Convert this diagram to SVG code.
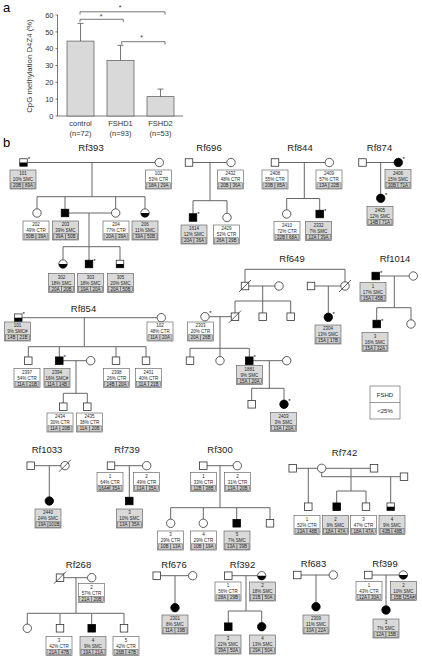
<svg xmlns="http://www.w3.org/2000/svg" width="422" height="661" viewBox="0 0 422 661">
<style>
text{font-family:"Liberation Sans",Arial,sans-serif}
.ln{stroke:#666;stroke-width:1;fill:none}
.s{fill:#fff;stroke:#333;stroke-width:0.8}
.a{fill:#000;stroke:#000;stroke-width:0.8}
.k{fill:#000}
.x{stroke:#333;stroke-width:0.8}
.bx{fill:#fff;stroke:#555;stroke-width:0.6}
.bg{fill:#d9d9d9;stroke:#555;stroke-width:0.6}
.c{fill:#cdcdcd;stroke:#555;stroke-width:0.5}
.t{font-size:4.5px;fill:#262626;text-anchor:middle}
.st{font-size:6px;fill:#000}
.ti{font-size:9.5px;fill:#1a1a1a;text-anchor:middle}
.ax{font-size:7.5px;fill:#333;text-anchor:end}
.xl{font-size:7.5px;fill:#333;text-anchor:middle}
.bar{fill:#d9d9d9;stroke:#666;stroke-width:0.8}
.ch{stroke:#555;stroke-width:0.8;fill:none}
</style>

<!-- Panel a -->
<g id="panel-a">
<text x="3" y="12" style="font-size:13px">a</text>
<text transform="translate(31.5,66) rotate(-90)" style="font-size:7.8px;fill:#333;text-anchor:middle">CpG methylation D4Z4 (%)</text>
<path class="ch" d="M57.5,15V116H183"/>
<path class="ch" d="M55.5,15H57.5M55.5,31.9H57.5M55.5,48.7H57.5M55.5,65.5H57.5M55.5,82.3H57.5M55.5,99.2H57.5M55.5,116H57.5"/>
<text class="ax" x="53.5" y="17.7">60</text>
<text class="ax" x="53.5" y="34.6">50</text>
<text class="ax" x="53.5" y="51.4">40</text>
<text class="ax" x="53.5" y="68.2">30</text>
<text class="ax" x="53.5" y="85">20</text>
<text class="ax" x="53.5" y="101.9">10</text>
<text class="ax" x="53.5" y="118.7">0</text>
<rect class="bar" x="67" y="41.1" width="27" height="74.9"/>
<rect class="bar" x="107" y="60.5" width="27" height="55.5"/>
<rect class="bar" x="147" y="96.6" width="27" height="19.4"/>
<path class="ch" d="M80.5,41.1V23.4M77.5,23.4H83.5M120.5,60.5V45.3M117.5,45.3H123.5M160.5,96.6V89.1M157.5,89.1H163.5"/>
<path class="ch" d="M80,14.5V11.8H165V14.5M80,22V19.3H123.3V22M121.7,44.5V41.7H165V44.5"/>
<text class="xl" x="120" y="10" style="font-size:7px">*</text>
<text class="xl" x="101" y="19" style="font-size:7px">*</text>
<text class="xl" x="141.7" y="40" style="font-size:7px">*</text>
<text class="xl" x="80.5" y="126">control</text>
<text class="xl" x="80.5" y="135.5">(n=72)</text>
<text class="xl" x="120.5" y="126">FSHD1</text>
<text class="xl" x="120.5" y="135.5">(n=93)</text>
<text class="xl" x="160.5" y="126">FSHD2</text>
<text class="xl" x="160.5" y="135.5">(n=53)</text>
</g>

<text x="3" y="146.5" style="font-size:13px">b</text>

<!-- Titles -->
<g id="titles">
<text class="ti" x="91" y="150.5">Rf393</text>
<text class="ti" x="209" y="150.5">Rf696</text>
<text class="ti" x="300" y="150.5">Rf844</text>
<text class="ti" x="379.5" y="150.5">Rf874</text>
<text class="ti" x="83.5" y="311.5">Rf854</text>
<text class="ti" x="292" y="261.5">Rf649</text>
<text class="ti" x="395" y="261.5">Rf1014</text>
<text class="ti" x="47" y="453">Rf1033</text>
<text class="ti" x="127" y="453">Rf739</text>
<text class="ti" x="220" y="453">Rf300</text>
<text class="ti" x="344.5" y="455.5">Rf742</text>
<text class="ti" x="78.5" y="567.5">Rf268</text>
<text class="ti" x="174" y="567.5">Rf676</text>
<text class="ti" x="242.5" y="567.5">Rf392</text>
<text class="ti" x="313.5" y="567">Rf683</text>
<text class="ti" x="385" y="567">Rf399</text>
</g>

<!-- Connectors -->
<g id="connectors" class="ln">
<path d="M27.25,162.5H155.1M92,162.5V196.7M37,196.7H145M37,196.7V208.8M65,196.7V209.25M115.7,196.7V208.8M145,196.7V208.8M68.75,213H111.5M89,213V246.7M63,246.7H120M63,246.7V259.8M89,246.7V260.25M120,246.7V260.25"/>
<path d="M192.75,162.5H226.8M210,162.5V200.7M193,200.7H227M193,200.7V213.75M227,200.7V213.3"/>
<path d="M278.75,162.5H325.1M304.3,162.5V198.5M286.7,198.5H319.7M286.7,198.5V209.8M319.7,198.5V210.25"/>
<path d="M366.25,162.5H394.1M380.7,162.5V194.1"/>
<path d="M22.05,317.7H157.1M84.3,317.7V346.7M28.3,346.7H146M28.3,346.7V356.95M59.3,346.7V356.95M116,346.7V356.95M146,346.7V356.95M63.05,360.7H86.5M76,360.7V393.3M63.3,393.3H87.3M63.3,393.3V402.95M87.3,393.3V402.95"/>
<path d="M245,269.3H345M245,269.3V282.25M345,269.3V281.8M248.75,286H274.8M262.7,286V301M235,301H290.7M235,301V312.95M262.7,301V312.95M290.7,301V312.95M314.75,286H340.8M328.3,286V313.1M209.2,316.7H231.25M220,316.7V348.3M190,348.3H249.3M190,348.3V356.95M220,348.3V356.5M249.3,348.3V356.95M253.05,360.7H282.5M269.3,360.7V388.3M251.7,388.3H284M251.7,388.3V400.55M284,388.3V400.1"/>
<path d="M379.45,276H409.1M394.3,276V307.7M376.7,307.7H411M376.7,307.7V320.25M411,307.7V319.8"/>
<path d="M34.45,465.7H60.8M49.3,465.7V496.8"/>
<path d="M114.75,465.7H142.5M129.3,465.7V497.25"/>
<path d="M207.05,465.7H233.1M220,465.7V507.7M170.7,507.7H270M170.7,507.7V519.1M203.3,507.7V519.1M236.7,507.7V519.55M270,507.7V519.55"/>
<path d="M296.45,468.3H317.5M325.9,468.3H370.25M321.7,472.5V476.7H400.25M308.3,468.3V502.95M351,468.3V491M336.7,491H366M336.7,491V502.95M366,491V502.95M390.7,476.7V502.95"/>
<path d="M63.75,577.7H87.5M76,577.7V613.3M27.3,613.3H124M27.3,613.3V624.1M60,613.3V624.55M91.7,613.3V624.55M124,613.3V624.55"/>
<path d="M160.45,575.7H188.5M175,575.7V603.5"/>
<path d="M232.05,575.7H257.5M246,575.7V611M228.3,611H261.7M228.3,611V622.95M261.7,611V622.5"/>
<path d="M301.05,575H329.1M316,575V602.5"/>
<path d="M372.05,575H399.1M386,575V605.8"/>
</g>

<!-- Rf393 -->
<g id="rf393-101"><rect class="s" x="19.75" y="158.75" width="7.5" height="7.5"/><rect class="k" x="19.75" y="162.5" width="7.5" height="3.75"/><text class="st" x="27.8" y="161">*</text>
<g transform="translate(10,170)"><rect class="bg" width="26" height="19"/><text class="t" x="13" y="5.4">101</text><text class="t" x="13" y="11">10% SMC</text><rect class="c" x="1" y="12.8" width="12" height="5.4"/><rect class="c" x="13" y="12.8" width="12" height="5.4"/><text class="t" x="7" y="17.2">20B</text><text class="t" x="19" y="17.2">89A</text></g></g>
<g id="rf393-102"><circle class="s" cx="159.3" cy="162.5" r="4.2"/>
<g transform="translate(145.5,170)"><rect class="bx" width="26" height="19"/><text class="t" x="13" y="5.4">102</text><text class="t" x="13" y="11">53% CTR</text><rect class="c" x="1" y="12.8" width="12" height="5.4"/><rect class="c" x="13" y="12.8" width="12" height="5.4"/><text class="t" x="7" y="17.2">18A</text><text class="t" x="19" y="17.2">29A</text></g></g>
<g id="rf393-202"><circle class="s" cx="37" cy="213" r="4.2"/>
<g transform="translate(23,221)"><rect class="bx" width="26" height="19"/><text class="t" x="13" y="5.4">202</text><text class="t" x="13" y="11">49% CTR</text><rect class="c" x="1" y="12.8" width="12" height="5.4"/><rect class="c" x="13" y="12.8" width="12" height="5.4"/><text class="t" x="7" y="17.2">50B</text><text class="t" x="19" y="17.2">39A</text></g></g>
<g id="rf393-203"><rect class="a" x="61.25" y="209.25" width="7.5" height="7.5"/>
<g transform="translate(52.5,221)"><rect class="bg" width="26" height="19"/><text class="t" x="13" y="5.4">203</text><text class="t" x="13" y="11">39% SMC</text><rect class="c" x="1" y="12.8" width="12" height="5.4"/><rect class="c" x="13" y="12.8" width="12" height="5.4"/><text class="t" x="7" y="17.2">39A</text><text class="t" x="19" y="17.2">50B</text></g></g>
<g id="rf393-204"><circle class="s" cx="115.7" cy="213" r="4.2"/>
<g transform="translate(103,221)"><rect class="bx" width="26" height="19"/><text class="t" x="13" y="5.4">204</text><text class="t" x="13" y="11">77% CTR</text><rect class="c" x="1" y="12.8" width="12" height="5.4"/><rect class="c" x="13" y="12.8" width="12" height="5.4"/><text class="t" x="7" y="17.2">20A</text><text class="t" x="19" y="17.2">39A</text></g></g>
<g id="rf393-206"><circle class="s" cx="145" cy="213" r="4.2"/><path class="k" d="M140.8,213A4.2,4.2 0 0 0 149.2,213Z"/>
<g transform="translate(132,221)"><rect class="bg" width="26" height="19"/><text class="t" x="13" y="5.4">206</text><text class="t" x="13" y="11">11% SMC</text><rect class="c" x="1" y="12.8" width="12" height="5.4"/><rect class="c" x="13" y="12.8" width="12" height="5.4"/><text class="t" x="7" y="17.2">39A</text><text class="t" x="19" y="17.2">50B</text></g></g>
<g id="rf393-302"><circle class="s" cx="63" cy="264" r="4.2"/><path class="k" d="M58.8,264A4.2,4.2 0 0 0 67.2,264Z"/>
<g transform="translate(48.5,273.5)"><rect class="bg" width="26" height="19"/><text class="t" x="13" y="5.4">302</text><text class="t" x="13" y="11">18% SMC</text><rect class="c" x="1" y="12.8" width="12" height="5.4"/><rect class="c" x="13" y="12.8" width="12" height="5.4"/><text class="t" x="7" y="17.2">20A</text><text class="t" x="19" y="17.2">20B</text></g></g>
<g id="rf393-303"><rect class="a" x="85.25" y="260.25" width="7.5" height="7.5"/><text class="st" x="93.3" y="262.5">*</text>
<g transform="translate(77.5,273.5)"><rect class="bg" width="26" height="19"/><text class="t" x="13" y="5.4">303</text><text class="t" x="13" y="11">18% SMC</text><rect class="c" x="1" y="12.8" width="12" height="5.4"/><rect class="c" x="13" y="12.8" width="12" height="5.4"/><text class="t" x="7" y="17.2">19A</text><text class="t" x="19" y="17.2">20A</text></g></g>
<g id="rf393-305"><rect class="s" x="116.25" y="260.25" width="7.5" height="7.5"/><rect class="k" x="116.25" y="264" width="7.5" height="3.75"/>
<g transform="translate(107.5,273.5)"><rect class="bg" width="26" height="19"/><text class="t" x="13" y="5.4">305</text><text class="t" x="13" y="11">20% SMC</text><rect class="c" x="1" y="12.8" width="12" height="5.4"/><rect class="c" x="13" y="12.8" width="12" height="5.4"/><text class="t" x="7" y="17.2">20A</text><text class="t" x="19" y="17.2">50B</text></g></g>

<!-- Rf696 -->
<g id="rf696-f"><rect class="s" x="185.25" y="158.75" width="7.5" height="7.5"/></g>
<g id="rf696-2432"><circle class="s" cx="231" cy="162.5" r="4.2"/>
<g transform="translate(217.5,170)"><rect class="bx" width="26" height="19"/><text class="t" x="13" y="5.4">2432</text><text class="t" x="13" y="11">48% CTR</text><rect class="c" x="1" y="12.8" width="12" height="5.4"/><rect class="c" x="13" y="12.8" width="12" height="5.4"/><text class="t" x="7" y="17.2">20B</text><text class="t" x="19" y="17.2">36A</text></g></g>
<g id="rf696-1614"><rect class="a" x="189.25" y="213.75" width="7.5" height="7.5"/><text class="st" x="197.3" y="216">*</text>
<g transform="translate(181,225)"><rect class="bg" width="26" height="19"/><text class="t" x="13" y="5.4">1614</text><text class="t" x="13" y="11">12% SMC</text><rect class="c" x="1" y="12.8" width="12" height="5.4"/><rect class="c" x="13" y="12.8" width="12" height="5.4"/><text class="t" x="7" y="17.2">20A</text><text class="t" x="19" y="17.2">36A</text></g></g>
<g id="rf696-2429"><circle class="s" cx="227" cy="217.5" r="4.2"/>
<g transform="translate(213.5,225)"><rect class="bx" width="26" height="19"/><text class="t" x="13" y="5.4">2429</text><text class="t" x="13" y="11">52% CTR</text><rect class="c" x="1" y="12.8" width="12" height="5.4"/><rect class="c" x="13" y="12.8" width="12" height="5.4"/><text class="t" x="7" y="17.2">26A</text><text class="t" x="19" y="17.2">29B</text></g></g>

<!-- Rf844 -->
<g id="rf844-2408"><rect class="s" x="271.25" y="158.75" width="7.5" height="7.5"/>
<g transform="translate(262,170)"><rect class="bx" width="26" height="19"/><text class="t" x="13" y="5.4">2408</text><text class="t" x="13" y="11">55% CTR</text><rect class="c" x="1" y="12.8" width="12" height="5.4"/><rect class="c" x="13" y="12.8" width="12" height="5.4"/><text class="t" x="7" y="17.2">20B</text><text class="t" x="19" y="17.2">85A</text></g></g>
<g id="rf844-2409"><circle class="s" cx="329.3" cy="162.5" r="4.2"/>
<g transform="translate(316,170)"><rect class="bx" width="26" height="19"/><text class="t" x="13" y="5.4">2409</text><text class="t" x="13" y="11">57% CTR</text><rect class="c" x="1" y="12.8" width="12" height="5.4"/><rect class="c" x="13" y="12.8" width="12" height="5.4"/><text class="t" x="7" y="17.2">13A</text><text class="t" x="19" y="17.2">22B</text></g></g>
<g id="rf844-2410"><circle class="s" cx="286.7" cy="214" r="4.2"/>
<g transform="translate(274,221.5)"><rect class="bx" width="26" height="19"/><text class="t" x="13" y="5.4">2410</text><text class="t" x="13" y="11">72% CTR</text><rect class="c" x="1" y="12.8" width="12" height="5.4"/><rect class="c" x="13" y="12.8" width="12" height="5.4"/><text class="t" x="7" y="17.2">22B</text><text class="t" x="19" y="17.2">68A</text></g></g>
<g id="rf844-2332"><rect class="a" x="315.95" y="210.25" width="7.5" height="7.5"/><text class="st" x="324" y="212.5">*</text>
<g transform="translate(305.5,221.5)"><rect class="bg" width="26" height="19"/><text class="t" x="13" y="5.4">2332</text><text class="t" x="13" y="11">7% SMC</text><rect class="c" x="1" y="12.8" width="12" height="5.4"/><rect class="c" x="13" y="12.8" width="12" height="5.4"/><text class="t" x="7" y="17.2">12A</text><text class="t" x="19" y="17.2">39A</text></g></g>

<!-- Rf874 -->
<g id="rf874-f"><rect class="s" x="358.75" y="158.75" width="7.5" height="7.5"/></g>
<g id="rf874-2406"><circle class="a" cx="398.3" cy="162.5" r="4.2"/><text class="st" x="402.6" y="161">*</text>
<g transform="translate(385,169.5)"><rect class="bg" width="26" height="19"/><text class="t" x="13" y="5.4">2406</text><text class="t" x="13" y="11">15% SMC</text><rect class="c" x="1" y="12.8" width="12" height="5.4"/><rect class="c" x="13" y="12.8" width="12" height="5.4"/><text class="t" x="7" y="17.2">30B</text><text class="t" x="19" y="17.2">71A</text></g></g>
<g id="rf874-2405"><circle class="a" cx="380.7" cy="198.3" r="4.2"/><text class="st" x="385" y="196.8">*</text>
<g transform="translate(367,206.5)"><rect class="bg" width="26" height="19"/><text class="t" x="13" y="5.4">2405</text><text class="t" x="13" y="11">12% SMC</text><rect class="c" x="1" y="12.8" width="12" height="5.4"/><rect class="c" x="13" y="12.8" width="12" height="5.4"/><text class="t" x="7" y="17.2">14B</text><text class="t" x="19" y="17.2">71A</text></g></g>

<!-- Rf854 -->
<g id="rf854-101"><rect class="s" x="14.55" y="313.95" width="7.5" height="7.5"/><rect class="k" x="14.55" y="317.7" width="7.5" height="3.75"/><text class="st" x="22.6" y="316.2">*</text>
<g transform="translate(4.5,322)"><rect class="bg" width="26" height="19"/><text class="t" x="13" y="5.4">101</text><text class="t" x="13" y="11">9% SMC#</text><rect class="c" x="1" y="12.8" width="12" height="5.4"/><rect class="c" x="13" y="12.8" width="12" height="5.4"/><text class="t" x="7" y="17.2">14B</text><text class="t" x="19" y="17.2">21B</text></g></g>
<g id="rf854-102"><circle class="s" cx="161.3" cy="317.7" r="4.2"/>
<g transform="translate(147,322)"><rect class="bx" width="26" height="19"/><text class="t" x="13" y="5.4">102</text><text class="t" x="13" y="11">48% CTR</text><rect class="c" x="1" y="12.8" width="12" height="5.4"/><rect class="c" x="13" y="12.8" width="12" height="5.4"/><text class="t" x="7" y="17.2">11A</text><text class="t" x="19" y="17.2">20A</text></g></g>
<g id="rf854-2397"><rect class="s" x="24.55" y="356.95" width="7.5" height="7.5"/>
<g transform="translate(14,368.5)"><rect class="bx" width="26" height="19"/><text class="t" x="13" y="5.4">2397</text><text class="t" x="13" y="11">54% CTR</text><rect class="c" x="1" y="12.8" width="12" height="5.4"/><rect class="c" x="13" y="12.8" width="12" height="5.4"/><text class="t" x="7" y="17.2">11A</text><text class="t" x="19" y="17.2">21B</text></g></g>
<g id="rf854-2394"><rect class="a" x="55.55" y="356.95" width="7.5" height="7.5"/><text class="st" x="63.6" y="359.2">*</text>
<g transform="translate(44,368.5)"><rect class="bg" width="26" height="19"/><text class="t" x="13" y="5.4">2394</text><text class="t" x="13" y="11">16% SMC#</text><rect class="c" x="1" y="12.8" width="12" height="5.4"/><rect class="c" x="13" y="12.8" width="12" height="5.4"/><text class="t" x="7" y="17.2">11A</text><text class="t" x="19" y="17.2">14B</text></g></g>
<g id="rf854-spouse"><circle class="s" cx="90.7" cy="360.7" r="4.2"/></g>
<g id="rf854-2398"><rect class="s" x="112.25" y="356.95" width="7.5" height="7.5"/>
<g transform="translate(103.5,368.5)"><rect class="bx" width="26" height="19"/><text class="t" x="13" y="5.4">2398</text><text class="t" x="13" y="11">26% CTR</text><rect class="c" x="1" y="12.8" width="12" height="5.4"/><rect class="c" x="13" y="12.8" width="12" height="5.4"/><text class="t" x="7" y="17.2">14B</text><text class="t" x="19" y="17.2">20A</text></g></g>
<g id="rf854-2401"><rect class="s" x="142.25" y="356.95" width="7.5" height="7.5"/>
<g transform="translate(135.5,368.5)"><rect class="bx" width="26" height="19"/><text class="t" x="13" y="5.4">2401</text><text class="t" x="13" y="11">40% CTR</text><rect class="c" x="1" y="12.8" width="12" height="5.4"/><rect class="c" x="13" y="12.8" width="12" height="5.4"/><text class="t" x="7" y="17.2">11A</text><text class="t" x="19" y="17.2">21B</text></g></g>
<g id="rf854-2434"><rect class="s" x="59.55" y="402.95" width="7.5" height="7.5"/>
<g transform="translate(47,413)"><rect class="bx" width="26" height="19"/><text class="t" x="13" y="5.4">2434</text><text class="t" x="13" y="11">30% CTR</text><rect class="c" x="1" y="12.8" width="12" height="5.4"/><rect class="c" x="13" y="12.8" width="12" height="5.4"/><text class="t" x="7" y="17.2">11A</text><text class="t" x="19" y="17.2">20B</text></g></g>
<g id="rf854-2435"><rect class="s" x="83.55" y="402.95" width="7.5" height="7.5"/>
<g transform="translate(76.5,413)"><rect class="bx" width="26" height="19"/><text class="t" x="13" y="5.4">2435</text><text class="t" x="13" y="11">38% CTR</text><rect class="c" x="1" y="12.8" width="12" height="5.4"/><rect class="c" x="13" y="12.8" width="12" height="5.4"/><text class="t" x="7" y="17.2">11A</text><text class="t" x="19" y="17.2">20B</text></g></g>

<!-- Rf649 -->
<g id="rf649-a"><rect class="s" x="241.25" y="282.25" width="7.5" height="7.5"/><line class="x" x1="239" y1="292" x2="251" y2="280"/></g>
<g id="rf649-aw"><circle class="s" cx="279" cy="286" r="4.2"/></g>
<g id="rf649-b"><rect class="s" x="231.25" y="312.95" width="7.5" height="7.5"/><line class="x" x1="229" y1="322.7" x2="241" y2="310.7"/></g>
<g id="rf649-c"><rect class="s" x="258.95" y="312.95" width="7.5" height="7.5"/></g>
<g id="rf649-d"><rect class="s" x="286.95" y="312.95" width="7.5" height="7.5"/></g>
<g id="rf649-e"><rect class="s" x="307.25" y="282.25" width="7.5" height="7.5"/></g>
<g id="rf649-f"><circle class="s" cx="345" cy="286" r="4.2"/><line class="x" x1="339" y1="292" x2="351" y2="280"/></g>
<g id="rf649-2304"><circle class="a" cx="328.3" cy="317.3" r="4.2"/><text class="st" x="332.6" y="315.8">*</text>
<g transform="translate(315,325)"><rect class="bg" width="26" height="19"/><text class="t" x="13" y="5.4">2304</text><text class="t" x="13" y="11">13% SMC</text><rect class="c" x="1" y="12.8" width="12" height="5.4"/><rect class="c" x="13" y="12.8" width="12" height="5.4"/><text class="t" x="7" y="17.2">15A</text><text class="t" x="19" y="17.2">17B</text></g></g>
<g id="rf649-2303"><circle class="s" cx="205" cy="316.7" r="4.2"/><text class="st" x="209.3" y="315.2">*</text>
<g transform="translate(187.5,322)"><rect class="bx" width="26" height="19"/><text class="t" x="13" y="5.4">2303</text><text class="t" x="13" y="11">20% CTR</text><rect class="c" x="1" y="12.8" width="12" height="5.4"/><rect class="c" x="13" y="12.8" width="12" height="5.4"/><text class="t" x="7" y="17.2">20A</text><text class="t" x="19" y="17.2">26B</text></g></g>
<g id="rf649-g"><rect class="s" x="186.25" y="356.95" width="7.5" height="7.5"/></g>
<g id="rf649-h"><circle class="s" cx="220" cy="360.7" r="4.2"/></g>
<g id="rf649-1881"><rect class="a" x="245.55" y="356.95" width="7.5" height="7.5"/><text class="st" x="253.6" y="359.2">*</text>
<g transform="translate(236.5,365.5)"><rect class="bg" width="26" height="19"/><text class="t" x="13" y="5.4">1881</text><text class="t" x="13" y="11">9% SMC</text><rect class="c" x="1" y="12.8" width="12" height="5.4"/><rect class="c" x="13" y="12.8" width="12" height="5.4"/><text class="t" x="7" y="17.2">15A</text><text class="t" x="19" y="17.2">20A</text></g></g>
<g id="rf649-1881w"><circle class="s" cx="286.7" cy="360.7" r="4.2"/></g>
<g id="rf649-i"><rect class="s" x="247.95" y="400.55" width="7.5" height="7.5"/></g>
<g id="rf649-2403"><circle class="a" cx="284" cy="404.3" r="4.2"/><text class="st" x="288.3" y="402.8">*</text>
<g transform="translate(270.5,412.5)"><rect class="bg" width="26" height="19"/><text class="t" x="13" y="5.4">2403</text><text class="t" x="13" y="11">3% SMC</text><rect class="c" x="1" y="12.8" width="12" height="5.4"/><rect class="c" x="13" y="12.8" width="12" height="5.4"/><text class="t" x="7" y="17.2">13A</text><text class="t" x="19" y="17.2">20A</text></g></g>

<!-- Rf1014 -->
<g id="rf1014-1"><rect class="a" x="371.95" y="272.25" width="7.5" height="7.5"/><text class="st" x="380" y="274.5">*</text>
<g transform="translate(360,282.5)"><rect class="bg" width="26" height="19"/><text class="t" x="13" y="5.4">1</text><text class="t" x="13" y="11">17% SMC</text><rect class="c" x="1" y="12.8" width="12" height="5.4"/><rect class="c" x="13" y="12.8" width="12" height="5.4"/><text class="t" x="7" y="17.2">15A</text><text class="t" x="19" y="17.2">45B</text></g></g>
<g id="rf1014-2"><circle class="s" cx="413.3" cy="276" r="4.2"/></g>
<g id="rf1014-3"><rect class="a" x="372.95" y="320.25" width="7.5" height="7.5"/><text class="st" x="381" y="322.5">*</text>
<g transform="translate(362,332.5)"><rect class="bg" width="26" height="19"/><text class="t" x="13" y="5.4">3</text><text class="t" x="13" y="11">16% SMC</text><rect class="c" x="1" y="12.8" width="12" height="5.4"/><rect class="c" x="13" y="12.8" width="12" height="5.4"/><text class="t" x="7" y="17.2">15A</text><text class="t" x="19" y="17.2">32A</text></g></g>
<g id="rf1014-4"><circle class="s" cx="411" cy="324" r="4.2"/></g>

<!-- Legend -->
<g id="legend"><rect class="bx" x="370" y="386" width="30" height="33"/><line class="x" x1="370" y1="402.5" x2="400" y2="402.5" style="stroke:#555;stroke-width:0.6"/>
<text x="385" y="396.5" style="font-size:6px;fill:#222;text-anchor:middle">FSHD</text>
<text x="385" y="413" style="font-size:6px;fill:#222;text-anchor:middle">&lt;25%</text></g>

<!-- Rf1033 -->
<g id="rf1033-f"><rect class="s" x="26.95" y="461.95" width="7.5" height="7.5"/></g>
<g id="rf1033-m"><circle class="s" cx="65" cy="465.7" r="4.2"/><line class="x" x1="59" y1="471.7" x2="71" y2="459.7"/></g>
<g id="rf1033-2440"><circle class="a" cx="49.3" cy="501" r="4.2"/>
<g transform="translate(35,509)"><rect class="bg" width="26" height="19"/><text class="t" x="13" y="5.4">2440</text><text class="t" x="13" y="11">24% SMC</text><rect class="c" x="1" y="12.8" width="12" height="5.4"/><rect class="c" x="13" y="12.8" width="12" height="5.4"/><text class="t" x="7" y="17.2">19A</text><text class="t" x="19" y="17.2">101B</text></g></g>

<!-- Rf739 -->
<g id="rf739-1"><rect class="s" x="107.25" y="461.95" width="7.5" height="7.5"/>
<g transform="translate(97,472.5)"><rect class="bx" width="26" height="19"/><text class="t" x="13" y="5.4">1</text><text class="t" x="13" y="11">64% CTR</text><rect class="c" x="1" y="12.8" width="12" height="5.4"/><rect class="c" x="13" y="12.8" width="12" height="5.4"/><text class="t" x="7" y="17.2">16A#</text><text class="t" x="19" y="17.2">35A</text></g></g>
<g id="rf739-2"><circle class="s" cx="146.7" cy="465.7" r="4.2"/>
<g transform="translate(133.5,472.5)"><rect class="bx" width="26" height="19"/><text class="t" x="13" y="5.4">2</text><text class="t" x="13" y="11">49% CTR</text><rect class="c" x="1" y="12.8" width="12" height="5.4"/><rect class="c" x="13" y="12.8" width="12" height="5.4"/><text class="t" x="7" y="17.2">13A</text><text class="t" x="19" y="17.2">35A</text></g></g>
<g id="rf739-3"><rect class="a" x="125.55" y="497.25" width="7.5" height="7.5"/>
<g transform="translate(116.5,509)"><rect class="bg" width="26" height="19"/><text class="t" x="13" y="5.4">3</text><text class="t" x="13" y="11">10% SMC</text><rect class="c" x="1" y="12.8" width="12" height="5.4"/><rect class="c" x="13" y="12.8" width="12" height="5.4"/><text class="t" x="7" y="17.2">13A</text><text class="t" x="19" y="17.2">35A</text></g></g>

<!-- Rf300 -->
<g id="rf300-1"><rect class="s" x="199.55" y="461.95" width="7.5" height="7.5"/>
<g transform="translate(190.5,472.5)"><rect class="bx" width="26" height="19"/><text class="t" x="13" y="5.4">1</text><text class="t" x="13" y="11">33% CTR</text><rect class="c" x="1" y="12.8" width="12" height="5.4"/><rect class="c" x="13" y="12.8" width="12" height="5.4"/><text class="t" x="7" y="17.2">12B</text><text class="t" x="19" y="17.2">38B</text></g></g>
<g id="rf300-2"><circle class="s" cx="237.3" cy="465.7" r="4.2"/>
<g transform="translate(224.5,472.5)"><rect class="bx" width="26" height="19"/><text class="t" x="13" y="5.4">2</text><text class="t" x="13" y="11">31% CTR</text><rect class="c" x="1" y="12.8" width="12" height="5.4"/><rect class="c" x="13" y="12.8" width="12" height="5.4"/><text class="t" x="7" y="17.2">13A</text><text class="t" x="19" y="17.2">20B</text></g></g>
<g id="rf300-3"><circle class="s" cx="170.7" cy="523.3" r="4.2"/>
<g transform="translate(157.5,531)"><rect class="bx" width="26" height="19"/><text class="t" x="13" y="5.4">3</text><text class="t" x="13" y="11">29% CTR</text><rect class="c" x="1" y="12.8" width="12" height="5.4"/><rect class="c" x="13" y="12.8" width="12" height="5.4"/><text class="t" x="7" y="17.2">10B</text><text class="t" x="19" y="17.2">13A</text></g></g>
<g id="rf300-4"><circle class="s" cx="203.3" cy="523.3" r="4.2"/>
<g transform="translate(190.5,531)"><rect class="bx" width="26" height="19"/><text class="t" x="13" y="5.4">4</text><text class="t" x="13" y="11">29% CTR</text><rect class="c" x="1" y="12.8" width="12" height="5.4"/><rect class="c" x="13" y="12.8" width="12" height="5.4"/><text class="t" x="7" y="17.2">10B</text><text class="t" x="19" y="17.2">19A</text></g></g>
<g id="rf300-5"><rect class="a" x="232.95" y="519.55" width="7.5" height="7.5"/>
<g transform="translate(224,531)"><rect class="bg" width="26" height="19"/><text class="t" x="13" y="5.4">5</text><text class="t" x="13" y="11">7% SMC</text><rect class="c" x="1" y="12.8" width="12" height="5.4"/><rect class="c" x="13" y="12.8" width="12" height="5.4"/><text class="t" x="7" y="17.2">13A</text><text class="t" x="19" y="17.2">39B</text></g></g>
<g id="rf300-6"><rect class="s" x="266.25" y="519.55" width="7.5" height="7.5"/></g>

<!-- Rf742 -->
<g id="rf742-l"><rect class="s" x="288.95" y="464.55" width="7.5" height="7.5"/></g>
<g id="rf742-w"><circle class="s" cx="321.7" cy="468.3" r="4.2"/></g>
<g id="rf742-r1"><rect class="s" x="370.25" y="464.55" width="7.5" height="7.5"/></g>
<g id="rf742-r2"><rect class="s" x="400.25" y="472.95" width="7.5" height="7.5"/></g>
<g id="rf742-1"><rect class="s" x="304.55" y="502.95" width="7.5" height="7.5"/>
<g transform="translate(294,515.5)"><rect class="bx" width="26" height="19"/><text class="t" x="13" y="5.4">1</text><text class="t" x="13" y="11">52% CTR</text><rect class="c" x="1" y="12.8" width="12" height="5.4"/><rect class="c" x="13" y="12.8" width="12" height="5.4"/><text class="t" x="7" y="17.2">13A</text><text class="t" x="19" y="17.2">48B</text></g></g>
<g id="rf742-2"><rect class="a" x="332.95" y="502.95" width="7.5" height="7.5"/>
<g transform="translate(322.5,515.5)"><rect class="bg" width="26" height="19"/><text class="t" x="13" y="5.4">2</text><text class="t" x="13" y="11">9% SMC</text><rect class="c" x="1" y="12.8" width="12" height="5.4"/><rect class="c" x="13" y="12.8" width="12" height="5.4"/><text class="t" x="7" y="17.2">18A</text><text class="t" x="19" y="17.2">47A</text></g></g>
<g id="rf742-3"><rect class="s" x="362.25" y="502.95" width="7.5" height="7.5"/>
<g transform="translate(350.5,515.5)"><rect class="bx" width="26" height="19"/><text class="t" x="13" y="5.4">3</text><text class="t" x="13" y="11">47% CTR</text><rect class="c" x="1" y="12.8" width="12" height="5.4"/><rect class="c" x="13" y="12.8" width="12" height="5.4"/><text class="t" x="7" y="17.2">18A</text><text class="t" x="19" y="17.2">47A</text></g></g>
<g id="rf742-4"><rect class="s" x="386.95" y="502.95" width="7.5" height="7.5"/><rect class="k" x="386.95" y="506.7" width="7.5" height="3.75"/>
<g transform="translate(379,515.5)"><rect class="bg" width="26" height="19"/><text class="t" x="13" y="5.4">4</text><text class="t" x="13" y="11">9% SMC</text><rect class="c" x="1" y="12.8" width="12" height="5.4"/><rect class="c" x="13" y="12.8" width="12" height="5.4"/><text class="t" x="7" y="17.2">43B</text><text class="t" x="19" y="17.2">48B</text></g></g>

<!-- Rf268 -->
<g id="rf268-1"><rect class="s" x="56.25" y="573.95" width="7.5" height="7.5"/><line class="x" x1="54" y1="583.7" x2="66" y2="571.7"/></g>
<g id="rf268-2"><circle class="s" cx="91.7" cy="577.7" r="4.2"/>
<g transform="translate(78.5,583.5)"><rect class="bx" width="26" height="19"/><text class="t" x="13" y="5.4">2</text><text class="t" x="13" y="11">57% CTR</text><rect class="c" x="1" y="12.8" width="12" height="5.4"/><rect class="c" x="13" y="12.8" width="12" height="5.4"/><text class="t" x="7" y="17.2">21A</text><text class="t" x="19" y="17.2">20B</text></g></g>
<g id="rf268-c1"><circle class="s" cx="27.3" cy="628.3" r="4.2"/></g>
<g id="rf268-3"><rect class="s" x="56.25" y="624.55" width="7.5" height="7.5"/>
<g transform="translate(46,636.5)"><rect class="bx" width="26" height="19"/><text class="t" x="13" y="5.4">3</text><text class="t" x="13" y="11">42% CTR</text><rect class="c" x="1" y="12.8" width="12" height="5.4"/><rect class="c" x="13" y="12.8" width="12" height="5.4"/><text class="t" x="7" y="17.2">21A</text><text class="t" x="19" y="17.2">47B</text></g></g>
<g id="rf268-4"><rect class="a" x="87.95" y="624.55" width="7.5" height="7.5"/>
<g transform="translate(80,636.5)"><rect class="bg" width="26" height="19"/><text class="t" x="13" y="5.4">4</text><text class="t" x="13" y="11">9% SMC</text><rect class="c" x="1" y="12.8" width="12" height="5.4"/><rect class="c" x="13" y="12.8" width="12" height="5.4"/><text class="t" x="7" y="17.2">19A</text><text class="t" x="19" y="17.2">21A</text></g></g>
<g id="rf268-5"><rect class="s" x="120.25" y="624.55" width="7.5" height="7.5"/>
<g transform="translate(113,636.5)"><rect class="bx" width="26" height="19"/><text class="t" x="13" y="5.4">5</text><text class="t" x="13" y="11">42% CTR</text><rect class="c" x="1" y="12.8" width="12" height="5.4"/><rect class="c" x="13" y="12.8" width="12" height="5.4"/><text class="t" x="7" y="17.2">26B</text><text class="t" x="19" y="17.2">47B</text></g></g>

<!-- Rf676 -->
<g id="rf676-f"><rect class="s" x="152.95" y="571.95" width="7.5" height="7.5"/></g>
<g id="rf676-m"><circle class="s" cx="192.7" cy="575.7" r="4.2"/></g>
<g id="rf676-2301"><circle class="a" cx="175" cy="607.7" r="4.2"/>
<g transform="translate(162,615)"><rect class="bg" width="26" height="19"/><text class="t" x="13" y="5.4">2301</text><text class="t" x="13" y="11">8% SMC</text><rect class="c" x="1" y="12.8" width="12" height="5.4"/><rect class="c" x="13" y="12.8" width="12" height="5.4"/><text class="t" x="7" y="17.2">11A</text><text class="t" x="19" y="17.2">19B</text></g></g>

<!-- Rf392 -->
<g id="rf392-1"><rect class="s" x="224.55" y="571.95" width="7.5" height="7.5"/>
<g transform="translate(215,582)"><rect class="bx" width="26" height="19"/><text class="t" x="13" y="5.4">1</text><text class="t" x="13" y="11">56% CTR</text><rect class="c" x="1" y="12.8" width="12" height="5.4"/><rect class="c" x="13" y="12.8" width="12" height="5.4"/><text class="t" x="7" y="17.2">28A</text><text class="t" x="19" y="17.2">29B</text></g></g>
<g id="rf392-2"><circle class="s" cx="261.7" cy="575.7" r="4.2"/><path class="k" d="M257.5,575.7A4.2,4.2 0 0 0 265.9,575.7Z"/>
<g transform="translate(249.5,582)"><rect class="bg" width="26" height="19"/><text class="t" x="13" y="5.4">2</text><text class="t" x="13" y="11">18% SMC</text><rect class="c" x="1" y="12.8" width="12" height="5.4"/><rect class="c" x="13" y="12.8" width="12" height="5.4"/><text class="t" x="7" y="17.2">21B</text><text class="t" x="19" y="17.2">50A</text></g></g>
<g id="rf392-3"><rect class="a" x="224.55" y="622.95" width="7.5" height="7.5"/>
<g transform="translate(215,635)"><rect class="bg" width="26" height="19"/><text class="t" x="13" y="5.4">3</text><text class="t" x="13" y="11">22% SMC</text><rect class="c" x="1" y="12.8" width="12" height="5.4"/><rect class="c" x="13" y="12.8" width="12" height="5.4"/><text class="t" x="7" y="17.2">39A</text><text class="t" x="19" y="17.2">50A</text></g></g>
<g id="rf392-4"><circle class="a" cx="261.7" cy="626.7" r="4.2"/>
<g transform="translate(249.5,635)"><rect class="bg" width="26" height="19"/><text class="t" x="13" y="5.4">4</text><text class="t" x="13" y="11">13% SMC</text><rect class="c" x="1" y="12.8" width="12" height="5.4"/><rect class="c" x="13" y="12.8" width="12" height="5.4"/><text class="t" x="7" y="17.2">29A</text><text class="t" x="19" y="17.2">50A</text></g></g>

<!-- Rf683 -->
<g id="rf683-f"><rect class="s" x="293.55" y="571.25" width="7.5" height="7.5"/></g>
<g id="rf683-m"><circle class="s" cx="333.3" cy="575" r="4.2"/></g>
<g id="rf683-2309"><circle class="a" cx="316" cy="606.7" r="4.2"/>
<g transform="translate(303,615)"><rect class="bg" width="26" height="19"/><text class="t" x="13" y="5.4">2309</text><text class="t" x="13" y="11">11% SMC</text><rect class="c" x="1" y="12.8" width="12" height="5.4"/><rect class="c" x="13" y="12.8" width="12" height="5.4"/><text class="t" x="7" y="17.2">10A</text><text class="t" x="19" y="17.2">22A</text></g></g>

<!-- Rf399 -->
<g id="rf399-1"><rect class="s" x="364.55" y="571.25" width="7.5" height="7.5"/>
<g transform="translate(356,581.5)"><rect class="bx" width="26" height="19"/><text class="t" x="13" y="5.4">1</text><text class="t" x="13" y="11">43% CTR</text><rect class="c" x="1" y="12.8" width="12" height="5.4"/><rect class="c" x="13" y="12.8" width="12" height="5.4"/><text class="t" x="7" y="17.2">12A</text><text class="t" x="19" y="17.2">30A</text></g></g>
<g id="rf399-2"><circle class="s" cx="403.3" cy="575" r="4.2"/><path class="k" d="M399.1,575A4.2,4.2 0 0 0 407.5,575Z"/>
<g transform="translate(390.5,581.5)"><rect class="bg" width="26" height="19"/><text class="t" x="13" y="5.4">2</text><text class="t" x="13" y="11">10% SMC</text><rect class="c" x="1" y="12.8" width="12" height="5.4"/><rect class="c" x="13" y="12.8" width="12" height="5.4"/><text class="t" x="7" y="17.2">15B</text><text class="t" x="19" y="17.2">25A#</text></g></g>
<g id="rf399-3"><circle class="a" cx="386" cy="610" r="4.2"/>
<g transform="translate(373,619)"><rect class="bg" width="26" height="19"/><text class="t" x="13" y="5.4">3</text><text class="t" x="13" y="11">7% SMC</text><rect class="c" x="1" y="12.8" width="12" height="5.4"/><rect class="c" x="13" y="12.8" width="12" height="5.4"/><text class="t" x="7" y="17.2">12A</text><text class="t" x="19" y="17.2">15B</text></g></g>
</svg>
